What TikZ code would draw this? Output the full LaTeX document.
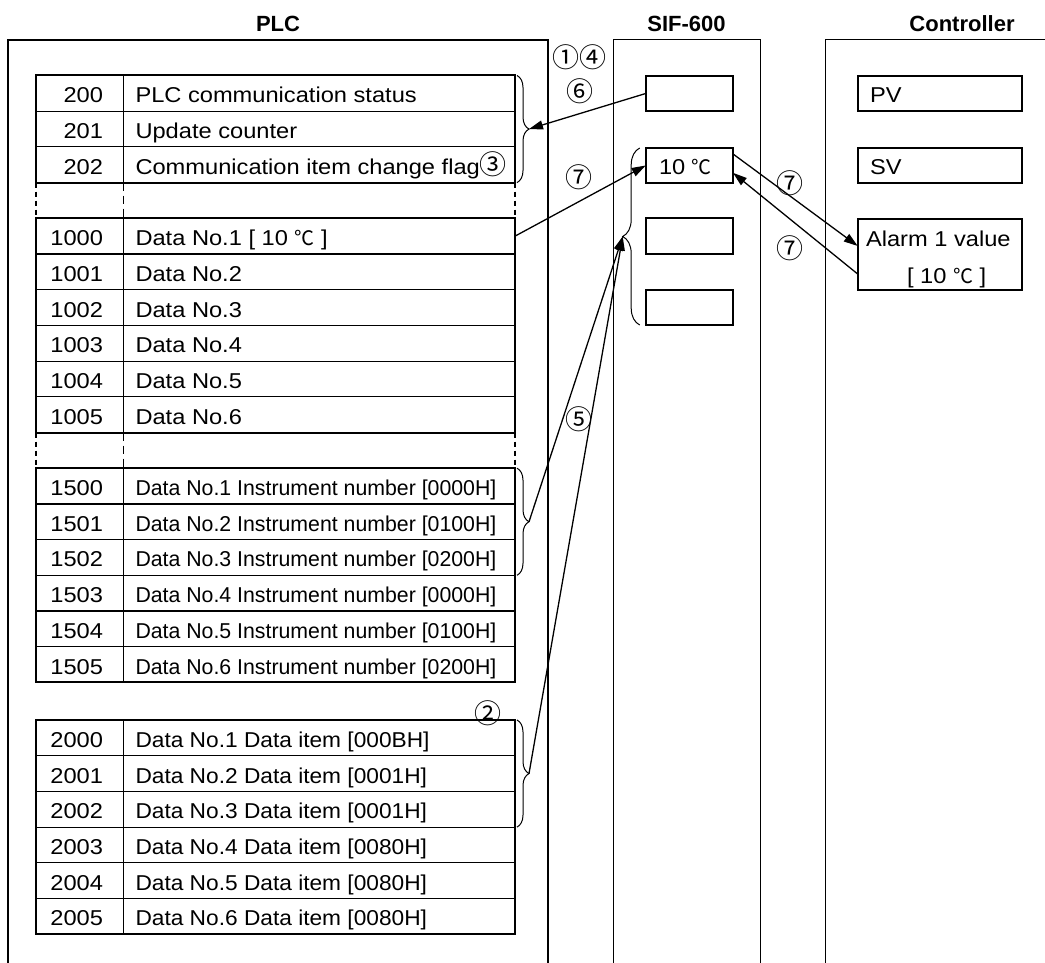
\documentclass[tikz,border=0pt]{standalone}
\usepackage{fontspec}
\usepackage{graphicx}
\setmainfont{Liberation Sans}[FakeStretch=1.1]
\newfontfamily\titlefont{Liberation Sans}
\newfontfamily\cjkfont{Noto Sans CJK JP}
\usetikzlibrary{arrows.meta,decorations.pathreplacing,calc}
\newcommand\mydeg{{\cjkfont\fontsize{20}{24}\selectfont ℃}}
\newcommand\mycirc[1]{{\cjkfont\fontsize{27}{28}\selectfont #1}}
\newcommand\narrowI[1]{\scalebox{0.90}[1]{#1}}
\newcommand\narrowD[1]{\scalebox{0.96}[1]{#1}}
\newcommand\tabrow[4]{%
  \node[numcell] (n#1) at (36,#2) {};
  \node[txtcell] (t#1) at (123.5,#2) {};
  \node[lbl, anchor=base east] (nn#1) at (103,{#2+27.3}) {#3};
  \node[lbl, anchor=base west] (tt#1) at (135.5,{#2+27.3}) {#4};
}
\begin{document}
\begin{tikzpicture}[x=1pt,y=-1pt, font=\fontsize{21.5}{24}\selectfont,
  numcell/.style={draw, line width=1.2pt, anchor=north west, minimum width=87.5pt, minimum height=35.7pt, inner sep=0pt, outer sep=0pt},
  txtcell/.style={numcell, minimum width=391.5pt},
  lbl/.style={inner sep=0pt, outer sep=0pt},
  box/.style={draw, line width=2pt, anchor=north west, inner sep=0pt, outer sep=0pt, minimum height=35pt},
  arr/.style={line width=1.3pt, -{Triangle[length=14pt,width=9pt]}},
  brc/.style={line width=1pt, decorate, decoration={brace, amplitude=#1}},
  title/.style={lbl, anchor=base, font=\titlefont\bfseries\fontsize{22}{24}\selectfont},
  circ/.style={lbl, font=\cjkfont\fontsize{27}{28}\selectfont},
  thickdash/.style={line width=2pt, dash pattern=on 5pt off 4pt},
  thindash/.style={line width=0.8pt, dash pattern=on 8pt off 5pt},
]
\fill[white] (0,0) rectangle (1045,963);
\useasboundingbox (0,0) rectangle (1045,963);

% titles
\node[title] (tplc) at (278,32) {PLC};
\node[title] (tsif) at (686.5,32) {SIF-600};
\node[title] (tctl) at (962,32) {Controller};

% frames
\draw[line width=2pt] (8,963) -- (8,40) -- (548,40) -- (548,963);
\draw[line width=1pt] (613,963) -- (613,40) -- (760,40) -- (760,963);
\draw[line width=1pt] (825,963) -- (825,40) -- (1045,40);

% table group 1
\tabrow{200}{75.5}{200}{PLC communication status}
\tabrow{201}{111.2}{201}{Update counter}
\tabrow{202}{146.9}{202}{Communication item change flag\mycirc{③}}
% group 2
\tabrow{1000}{218.3}{1000}{Data No.1 [ 10 \mydeg\ ]}
\tabrow{1001}{254.0}{1001}{Data No.2}
\tabrow{1002}{289.7}{1002}{Data No.3}
\tabrow{1003}{325.4}{1003}{Data No.4}
\tabrow{1004}{361.1}{1004}{Data No.5}
\tabrow{1005}{396.8}{1005}{Data No.6}
% group 3
\tabrow{1500}{468.2}{1500}{\narrowI{Data No.1 Instrument number [0000H]}}
\tabrow{1501}{503.9}{1501}{\narrowI{Data No.2 Instrument number [0100H]}}
\tabrow{1502}{539.6}{1502}{\narrowI{Data No.3 Instrument number [0200H]}}
\tabrow{1503}{575.3}{1503}{\narrowI{Data No.4 Instrument number [0000H]}}
\tabrow{1504}{611.0}{1504}{\narrowI{Data No.5 Instrument number [0100H]}}
\tabrow{1505}{646.7}{1505}{\narrowI{Data No.6 Instrument number [0200H]}}
% group 4
\tabrow{2000}{720.0}{2000}{\narrowD{Data No.1 Data item [000BH]}}
\tabrow{2001}{755.7}{2001}{\narrowD{Data No.2 Data item [0001H]}}
\tabrow{2002}{791.4}{2002}{\narrowD{Data No.3 Data item [0001H]}}
\tabrow{2003}{827.1}{2003}{\narrowD{Data No.4 Data item [0080H]}}
\tabrow{2004}{862.8}{2004}{\narrowD{Data No.5 Data item [0080H]}}
\tabrow{2005}{898.5}{2005}{\narrowD{Data No.6 Data item [0080H]}}

% outer table borders
\draw[line width=2pt] (n200.north west) rectangle (t202.south east);
\draw[line width=2pt] (n1000.north west) rectangle (t1005.south east);
\draw[line width=2pt] (n1500.north west) rectangle (t1505.south east);
\draw[line width=2pt] (n2000.north west) rectangle (t2005.south east);

% dashed gaps
\draw[thickdash] (n202.south west) -- (n1000.north west);
\draw[thindash] (n202.south east) -- (n1000.north east);
\draw[thickdash] (t202.south east) -- (t1000.north east);
\draw[thickdash] (n1005.south west) -- (n1500.north west);
\draw[thindash] (n1005.south east) -- (n1500.north east);
\draw[thickdash] (t1005.south east) -- (t1500.north east);

% braces on table
\draw[brc=12pt] ([xshift=2pt]t200.north east) -- ([xshift=2pt]t202.south east);
\draw[brc=12pt] ([xshift=2pt]t1500.north east) -- ([xshift=2pt]t1502.south east);
\draw[brc=12pt] ([xshift=2pt]t2000.north east) -- ([xshift=2pt]t2002.south east);
\coordinate (bt1) at ($(t200.north east)!0.5!(t202.south east)+(14,0)$);
\coordinate (bt3) at ($(t1500.north east)!0.5!(t1502.south east)+(14,0)$);
\coordinate (bt4) at ($(t2000.north east)!0.5!(t2002.south east)+(14,0)$);

% SIF-600 boxes
\node[box, minimum width=87.3pt] (s1) at (645.7,76) {};
\node[box, minimum width=87.3pt] (s2) at (645.7,148) {};
\node[box, minimum width=87.3pt] (s3) at (645.7,218.5) {};
\node[box, minimum width=87.3pt] (s4) at (645.7,290) {};
\node[lbl, anchor=base west] (s2t) at (659,175) {10 \mydeg};

% SIF brace
\draw[brc=17pt] ([xshift=-6pt]s4.south west) -- ([xshift=-6pt]s2.north west);
\coordinate (bsif) at ($(s2.north west)!0.5!(s4.south west)+(-23,0)$);

% Controller boxes
\node[box, minimum width=164.6pt] (pv) at (857.7,76) {};
\node[box, minimum width=164.6pt] (sv) at (857.7,148) {};
\node[box, minimum width=164.6pt, minimum height=71pt] (alarm) at (857.7,219) {};
\node[lbl, anchor=base west] (pvt) at (870,102.7) {PV};
\node[lbl, anchor=base west] (svt) at (870,174.5) {SV};
\node[lbl, anchor=base west] (al1) at (866,246.5) {Alarm 1 value};
\node[lbl, anchor=base west] (al2) at (907,283.3) {[ 10 \mydeg\ ]};

% arrows
\draw[arr] (s1.west) -- (bt1);
\draw[arr] (t1000.east) -- (s2.west);
\draw[arr] (bt3) -- (bsif);
\draw[arr] (bt4) -- (bsif);
\draw[arr] ($(s2.north east)!0.17!(s2.south east)$) -- ($(alarm.north west)!0.38!(alarm.south west)$);
\draw[arr] ($(alarm.north west)!0.775!(alarm.south west)$) -- ($(s2.north east)!0.71!(s2.south east)$);

% step labels
\node[circ] (c14) at (579,57) {①④};
\node[circ] (c6) at (580,91.5) {⑥};
\node[circ] (c7a) at (579,177) {⑦};
\node[circ] (c7b) at (790,183) {⑦};
\node[circ] (c7c) at (790,248) {⑦};
\node[circ] (c5) at (579,419) {⑤};
\node[circ] (c2) at (488,713) {②};
\end{tikzpicture}
\end{document}
